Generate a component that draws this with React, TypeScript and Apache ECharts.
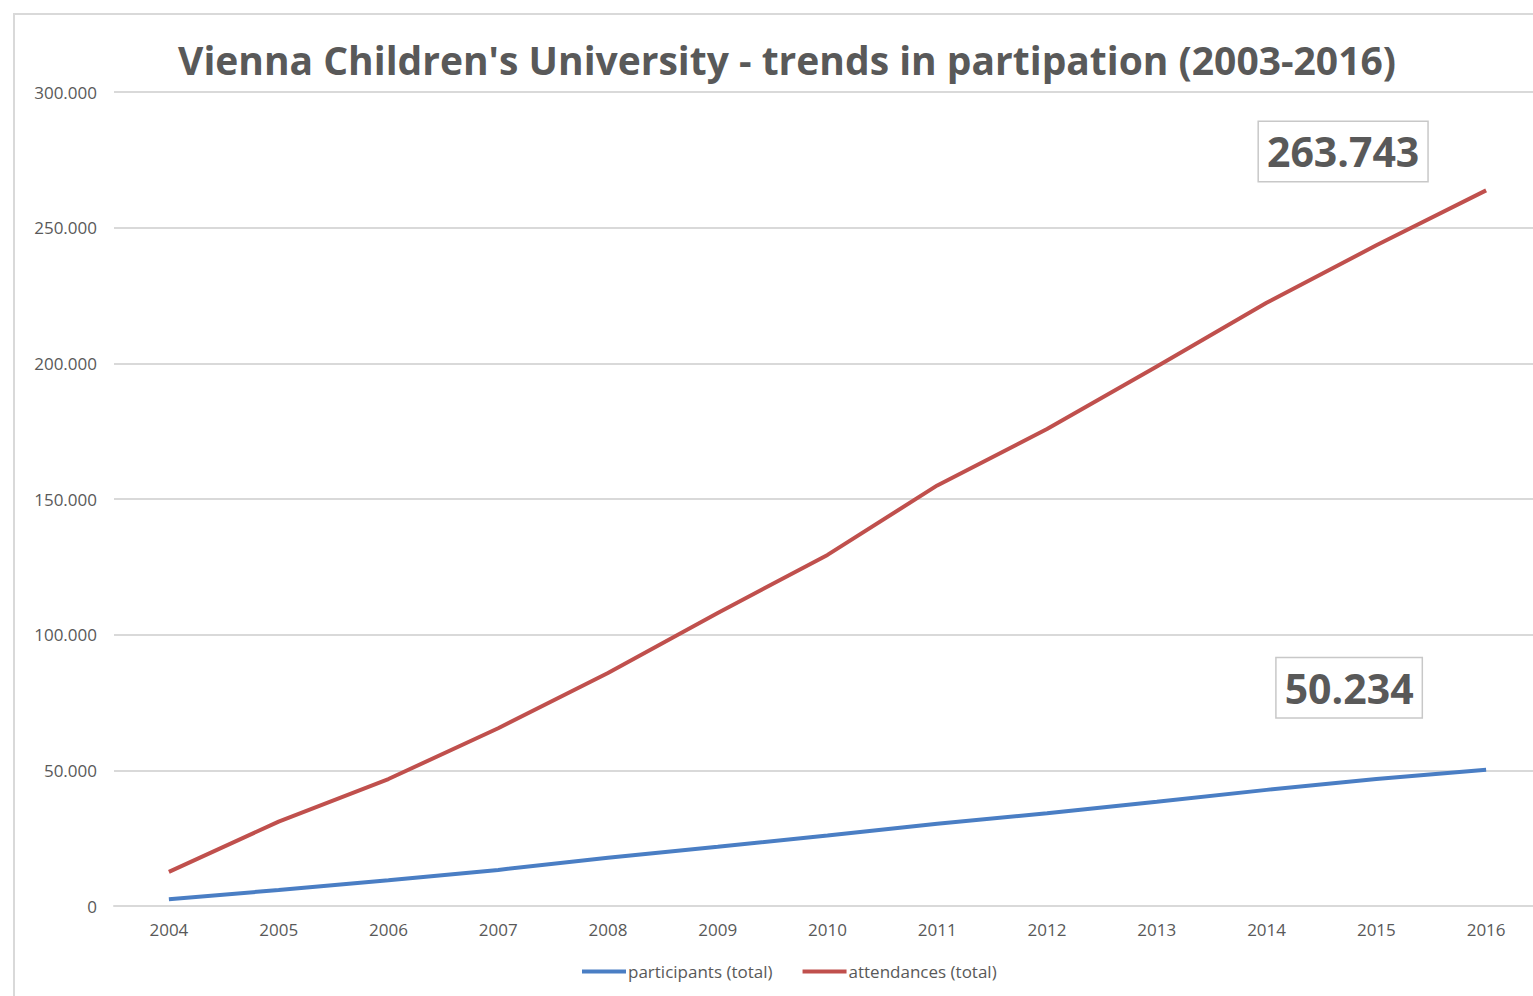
import React, { useEffect, useRef } from "react";
import * as echarts from "echarts";

const years = ["2004", "2005", "2006", "2007", "2008", "2009", "2010", "2011", "2012", "2013", "2014", "2015", "2016"];
const participants = [2500, 5900, 9500, 13300, 17800, 21800, 26000, 30300, 34200, 38400, 42800, 46800, 50234];
const attendances = [12600, 31100, 46800, 65500, 85900, 108000, 129400, 155000, 175800, 198800, 222300, 243500, 263743];
const seriesNames = ["participants (total)", "attendances (total)"];
const titleText = "Vienna Children's University - trends in partipation (2003-2016)";

const fmt = (v: number) => String(Math.round(v)).replace(/\B(?=(\d{3})+(?!\d))/g, ".");

const FONT = "'Open Sans', 'Noto Sans', sans-serif";
const GRAY = "#595959";

export default function App() {
  const ref = useRef<HTMLDivElement>(null);
  useEffect(() => {
    if (!ref.current) return;
    const chart = echarts.init(ref.current, undefined, { renderer: "svg" });
    const boxLabel = {
      show: true,
      position: "inside",
      fontFamily: FONT,
      fontWeight: "bold",
      fontSize: 41,
      color: GRAY,
      backgroundColor: "#ffffff",
      borderColor: "#c8c8c8",
      borderWidth: 1.5,
      padding: [11, 8, 7, 8],
      formatter: (p: any) => fmt(p.value),
    };
    chart.setOption({
      animation: false,
      backgroundColor: "#ffffff",
      textStyle: { fontFamily: FONT },
      title: {
        text: titleText,
        left: 782,
        top: 35,
        textAlign: "center",
        textStyle: { fontFamily: FONT, fontWeight: "bold", fontSize: 39, color: GRAY },
      },
      graphic: [
        {
          type: "rect",
          shape: { x: 14, y: 14, width: 1600, height: 1100 },
          style: { fill: "none", stroke: "#d9d9d9", lineWidth: 2 },
          silent: true,
          z: -10,
        },
      ],
      grid: { left: 114, top: 92, width: 1427, height: 814 },
      legend: {
        left: 582,
        top: 963,
        padding: 0,
        itemWidth: 44,
        itemHeight: 4,
        itemGap: 30,
        icon: "rect",
        textStyle: { fontFamily: FONT, fontSize: 17, color: GRAY, padding: [0, 0, 0, -3] },
        data: seriesNames,
      },
      xAxis: {
        type: "category",
        data: years,
        boundaryGap: true,
        axisLine: { show: true, lineStyle: { color: "#d9d9d9", width: 2 } },
        axisTick: { show: false },
        axisLabel: { fontFamily: FONT, fontSize: 17, color: GRAY, margin: 15 },
      },
      yAxis: {
        type: "value",
        min: 0,
        max: 300000,
        interval: 50000,
        axisLine: { show: false },
        axisTick: { show: false },
        splitLine: { lineStyle: { color: "#d9d9d9", width: 2 } },
        axisLabel: { fontFamily: FONT, fontSize: 17, color: GRAY, margin: 17, formatter: (v: number) => fmt(v) },
      },
      series: [
        {
          name: seriesNames[0],
          type: "line",
          data: participants,
          showSymbol: false,
          symbol: "none",
          lineStyle: { color: "#4A7EC4", width: 4 },
          itemStyle: { color: "#4A7EC4" },
          markPoint: {
            symbol: "circle",
            symbolSize: 0,
            data: [
              {
                coord: [years.length - 1, participants[participants.length - 1]],
                value: participants[participants.length - 1],
                label: { ...boxLabel, offset: [-137, -82] },
              },
            ],
          },
        },
        {
          name: seriesNames[1],
          type: "line",
          data: attendances,
          showSymbol: false,
          symbol: "none",
          lineStyle: { color: "#C0504D", width: 4 },
          itemStyle: { color: "#C0504D" },
          markPoint: {
            symbol: "circle",
            symbolSize: 0,
            data: [
              {
                coord: [years.length - 1, attendances[attendances.length - 1]],
                value: attendances[attendances.length - 1],
                label: { ...boxLabel, offset: [-143, -39] },
              },
            ],
          },
        },
      ],
    });
    return () => chart.dispose();
  }, []);
  return (
    <div
      style={{ position: "fixed", left: 0, top: 0, width: 1533, height: 996, overflow: "hidden", background: "#fff" }}
    >
      <div ref={ref} style={{ width: 1560, height: 996 }} />
    </div>
  );
}
